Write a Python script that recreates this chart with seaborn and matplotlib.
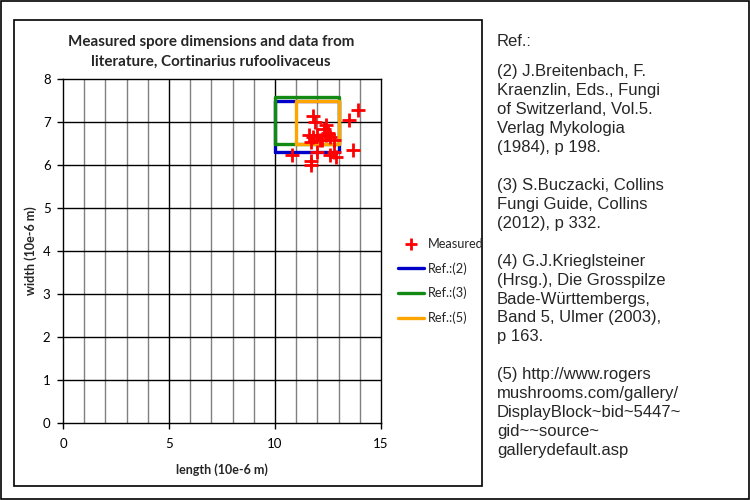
import matplotlib
matplotlib.use("Agg")
import matplotlib.pyplot as plt
import seaborn as sns
import pandas as pd
from matplotlib.lines import Line2D
from matplotlib.patches import Rectangle

# ---- data ----
length = [13.9, 13.5, 11.8, 11.9, 12.4, 12.3, 11.6, 11.8, 12.0, 12.2, 12.4, 12.6,
          12.8, 11.7, 12.1, 12.5, 13.7, 10.8, 11.7, 11.7, 12.0, 12.8, 12.9, 12.6]
width = [7.3, 7.05, 7.15, 7.0, 6.95, 6.85, 6.7, 6.65, 6.7, 6.6, 6.7, 6.65,
         6.6, 6.55, 6.6, 6.75, 6.35, 6.25, 6.1, 6.0, 6.3, 6.3, 6.2, 6.25]

ref_names = ["Ref.:(2)", "Ref.:(3)", "Ref.:(5)"]
ref_len_min = [10.0, 10.0, 11.0]
ref_len_max = [13.0, 13.0, 13.0]
ref_wid_min = [6.3, 6.5, 6.5]
ref_wid_max = [7.5, 7.6, 7.5]
ref_colors = ["#0000C8", "#138A13", "#FFA500"]

x_ticks = [0, 5, 10, 15]
y_ticks = [0, 1, 2, 3, 4, 5, 6, 7, 8]

title = "Measured spore dimensions and data from\nliterature, Cortinarius rufoolivaceus"
xlabel = "length (10e-6 m)"
ylabel = "width (10e-6 m)"
refs_head = "Ref.:"
refs_text = ("(2) J.Breitenbach, F.\nKraenzlin, Eds., Fungi\nof Switzerland, Vol.5.\n"
             "Verlag Mykologia\n(1984), p 198.\n\n"
             "(3) S.Buczacki, Collins\nFungi Guide, Collins\n(2012), p 332.\n\n"
             "(4) G.J.Krieglsteiner\n(Hrsg.), Die Grosspilze\nBade-Württembergs,\n"
             "Band 5, Ulmer (2003),\np 163.\n\n"
             "(5) http://www.rogers\nmushrooms.com/gallery/\nDisplayBlock~bid~5447~\n"
             "gid~~source~\ngallerydefault.asp")

# ---- build tables ----
rows = []
for n, x0, x1, y0, y1 in zip(ref_names, ref_len_min, ref_len_max, ref_wid_min, ref_wid_max):
    for i, (xx, yy) in enumerate([(x0, y0), (x1, y0), (x1, y1), (x0, y1), (x0, y0)]):
        rows.append({"ref": n, "order": i, "length": xx, "width": yy})
rect_df = pd.DataFrame(rows)
meas_df = pd.DataFrame({"length": length, "width": width})

sns.set_theme(style="white")
plt.rcParams["font.family"] = ["Lato", "DejaVu Sans"]

W, H = 750, 500
fig = plt.figure(figsize=(7.5, 5), dpi=100)
fig.patch.set_facecolor("white")

# outer border and chart box
fig.add_artist(Rectangle((1 / W, 1 / H), 748 / W, 498 / H, transform=fig.transFigure,
                         fill=False, edgecolor="black", lw=1.2))
fig.add_artist(Rectangle((14 / W, 1 - 486 / H), 468 / W, 466 / H, transform=fig.transFigure,
                         fill=False, edgecolor="black", lw=1.2))

ax = fig.add_axes([63 / W, 1 - 422.5 / H, 318 / W, 343 / H])
ax.set_facecolor("white")

sns.lineplot(data=rect_df, x="length", y="width", hue="ref", palette=dict(zip(ref_names, ref_colors)),
             sort=False, estimator=None, lw=2.4, ax=ax, legend=False, zorder=3)
sns.scatterplot(data=meas_df, x="length", y="width", marker="+", color="red", s=100,
                linewidth=2, ax=ax, legend=False, zorder=4)

ax.set_xlim(0, 15)
ax.set_ylim(0, 8)
ax.set_xticks(x_ticks)
ax.set_xticks(range(0, 16), minor=True)
ax.set_yticks(y_ticks)
ax.grid(False)
for v in range(1, 15):
    ax.axvline(v, color="black" if v % 5 == 0 else "#808080", lw=1, zorder=1)
for v in y_ticks[1:-1]:
    ax.axhline(v, color="black", lw=1, zorder=1)

for s in ax.spines.values():
    s.set_color("black")
    s.set_linewidth(1)
    s.set_visible(True)

ax.tick_params(axis="both", which="major", direction="out", length=4, width=1, color="black",
               labelsize=9.5, labelcolor="black", bottom=True, left=True)
ax.tick_params(axis="x", which="major", pad=7)
ax.tick_params(axis="y", which="major", pad=5)
ax.tick_params(axis="x", which="minor", length=0, bottom=False)

ax.set_xlabel(xlabel, fontsize=9, fontweight="bold", labelpad=10)
ax.set_ylabel(ylabel, fontsize=9, fontweight="bold", labelpad=4)

fig.text(211 / W, 1 - 52 / H, title, ha="center", va="center", fontsize=10.9,
         fontweight="bold", linespacing=1.55)

handles = [Line2D([], [], marker="+", color="red", ls="none", markersize=8, mew=2)]
handles += [Line2D([], [], color=c, lw=2.4) for c in ref_colors]
labels = ["Measured"] + ref_names
fig.legend(handles, labels, loc="upper left", bbox_to_anchor=(393 / W, 1 - 233 / H),
           frameon=False, fontsize=9.2, handlelength=2.0, handletextpad=0.3,
           labelspacing=0.95, borderaxespad=0)

fig.text(497 / W, 1 - 41 / H, refs_head, ha="left", va="center", fontsize=12,
         family=["Liberation Sans", "DejaVu Sans"])
fig.text(497 / W, 1 - 64 / H, refs_text, ha="left", va="top", fontsize=12,
         family=["Liberation Sans", "DejaVu Sans"], linespacing=1.33)

fig.savefig("out.png", dpi=100, facecolor="white")
